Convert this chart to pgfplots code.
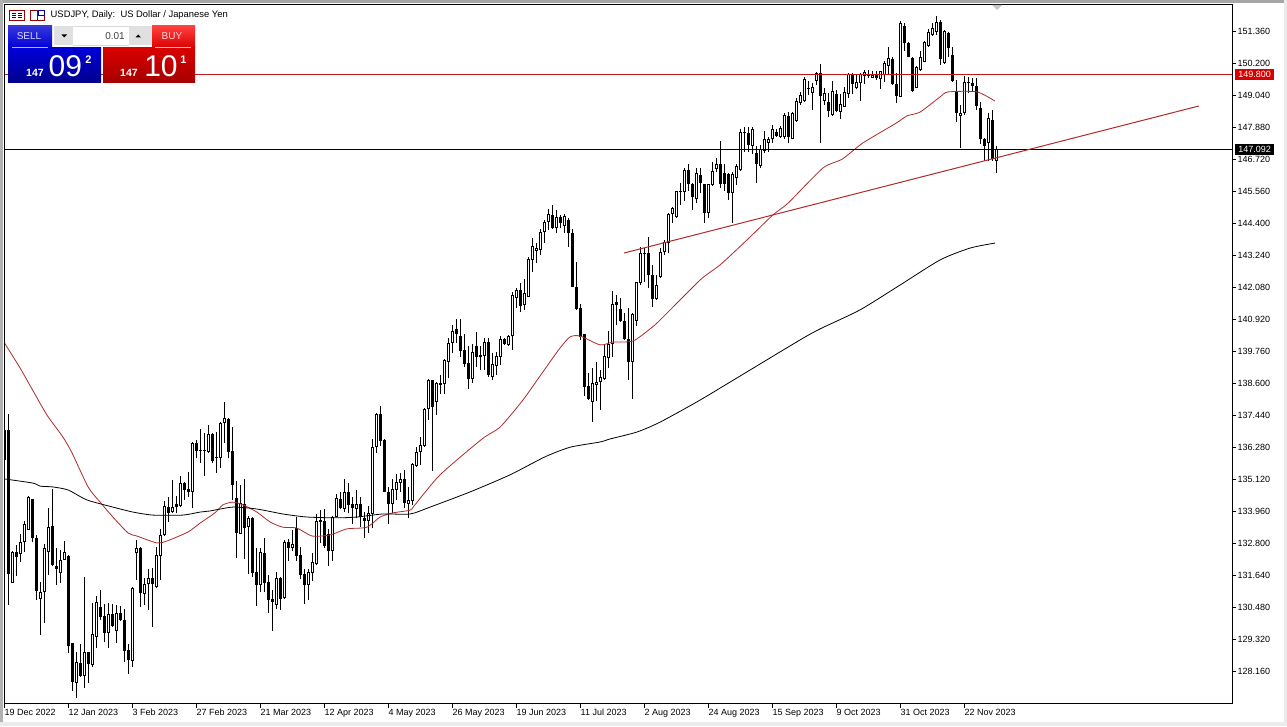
\documentclass[border=0pt]{standalone}
\usepackage{fontspec}
\setmainfont{Liberation Sans}
\usepackage{pgfplots}
\usepackage{pgfplotstable}
\pgfplotsset{compat=1.18}
\definecolor{mared}{HTML}{B02A2A}
\definecolor{linered}{HTML}{C01818}

% x open high low close, x = bar number
\pgfplotstableread{
x open high low close
2 131.36 132.53 131.36 132.48
4 132.41 133.14 132.13 132.84
5 132.84 133.62 132.48 133.49
6 133.30 134.52 133.29 134.49
9 130.80 131.40 129.48 131.04
10 131.03 132.78 129.93 132.62
11 132.48 134.10 131.66 133.40
14 131.72 132.56 131.36 132.22
15 132.22 132.89 132.20 132.48
18 127.76 128.87 127.21 128.49
20 128.01 131.59 127.57 128.85
22 128.39 130.63 128.33 129.51
23 129.42 130.90 129.02 130.67
26 129.57 130.63 129.02 130.23
28 129.64 130.57 129.21 130.27
32 128.55 131.21 128.33 131.19
33 132.44 132.91 131.49 132.62
35 130.98 131.54 130.57 131.32
36 131.32 131.86 130.39 131.54
38 131.21 132.69 131.17 132.37
39 132.36 133.31 131.48 133.10
40 133.10 134.35 133.08 134.15
42 133.93 135.10 133.92 134.11
44 134.17 135.25 134.11 134.98
47 134.68 136.49 134.07 136.43
50 136.14 136.79 135.26 136.18
51 136.13 137.09 136.09 136.76
54 135.91 137.19 135.55 137.17
55 137.16 137.92 136.45 137.34
59 133.14 134.92 133.14 134.26
61 133.41 133.81 131.69 133.71
64 131.30 132.62 131.05 132.48
68 130.57 131.75 130.41 131.54
70 130.81 132.93 130.78 132.85
72 132.65 133.29 132.53 132.78
76 131.30 131.88 130.75 131.75
77 131.74 132.44 131.45 132.12
78 132.06 133.87 132.02 133.62
82 132.54 133.80 132.17 133.75
83 133.77 134.59 133.75 134.44
85 134.05 135.14 133.95 134.68
88 134.05 134.74 133.71 134.22
91 133.63 134.17 133.19 133.89
92 133.87 136.58 133.35 136.29
93 136.29 137.54 136.09 137.49
97 134.23 135.13 133.92 134.76
98 134.74 135.32 134.38 135.02
99 135.01 135.34 134.68 135.13
101 134.24 134.86 133.71 134.36
102 134.35 135.73 134.20 135.68
103 135.61 136.31 135.58 136.10
104 136.10 136.67 135.65 136.36
105 136.35 137.70 136.29 137.68
106 137.66 138.75 137.28 138.73
108 137.94 138.67 137.46 138.63
110 138.57 139.50 138.22 139.45
111 139.39 140.24 138.79 140.06
112 140.06 140.72 139.69 140.50
117 138.76 140.03 138.63 139.75
119 139.55 139.96 139.09 139.62
120 139.61 140.24 139.09 140.09
122 138.85 139.72 138.73 139.29
123 139.25 139.75 138.91 139.60
124 139.57 140.32 139.27 140.20
126 140.01 140.36 139.97 140.32
127 140.31 141.93 139.81 141.80
128 141.69 142.05 141.33 141.99
130 141.45 142.38 141.27 141.88
131 141.75 143.20 141.72 143.10
132 143.08 143.86 142.65 143.60
133 143.42 143.71 142.96 143.50
134 143.44 144.19 143.26 144.08
135 144.08 144.53 143.71 144.47
136 144.47 144.91 144.16 144.73
138 144.22 144.89 144.04 144.65
140 144.32 144.74 144.07 144.67
147 137.94 139.15 137.22 138.61
148 138.55 139.39 137.97 138.67
149 138.67 139.09 137.64 138.82
150 138.76 140.00 138.73 139.60
151 139.51 140.50 139.15 140.03
152 140.03 141.95 139.57 141.47
157 139.39 141.17 138.04 141.12
158 140.88 142.29 140.68 142.27
159 142.26 143.56 142.17 143.32
160 143.29 143.50 142.29 143.34
163 141.65 142.53 141.63 142.16
164 142.45 143.50 142.41 143.38
165 143.36 143.80 143.26 143.72
166 143.68 144.77 143.32 144.74
167 144.73 145.01 144.41 144.95
168 144.62 145.57 144.61 145.57
170 145.55 146.42 145.22 146.34
173 145.28 146.40 145.13 146.22
176 144.79 145.83 144.59 145.82
177 145.81 146.63 145.77 146.29
178 146.39 146.76 146.28 146.56
182 145.52 146.28 144.41 146.18
183 146.04 146.55 145.80 146.48
184 146.34 147.84 146.31 147.71
187 147.22 147.91 146.91 147.83
189 146.48 147.25 146.40 147.09
190 147.03 147.75 146.94 147.45
191 147.31 147.55 147.00 147.46
192 147.45 147.96 147.31 147.81
194 147.55 147.93 147.49 147.86
195 147.52 148.39 147.48 148.33
197 147.48 148.45 147.45 148.39
198 148.12 148.94 148.09 148.85
199 148.78 149.18 148.70 149.05
200 148.83 149.70 148.80 149.63
201 149.28 149.58 149.06 149.30
202 149.14 149.48 148.51 149.34
203 149.58 149.90 149.42 149.87
205 148.85 149.32 148.70 149.12
207 148.33 149.58 148.30 149.20
209 148.45 149.08 148.18 148.72
210 148.64 149.34 148.61 149.18
211 149.09 149.87 148.96 149.82
213 149.30 149.78 149.26 149.52
214 149.48 149.87 148.85 149.82
215 149.76 149.96 149.46 149.90
216 149.75 149.96 149.66 149.82
217 149.69 149.94 149.66 149.78
219 149.63 149.94 149.28 149.92
220 149.78 150.29 149.54 150.21
221 150.12 150.81 149.82 150.39
224 149.00 151.74 149.00 151.66
228 149.32 150.11 149.30 150.09
229 149.96 150.67 149.94 150.42
230 150.27 151.03 150.24 150.97
231 150.83 151.44 150.81 151.35
232 151.23 151.66 151.21 151.47
233 151.35 151.92 151.23 151.72
235 150.23 151.41 150.18 151.39
239 148.31 148.70 147.15 148.39
240 148.39 149.75 148.33 149.52
241 149.48 149.70 149.12 149.54
246 147.31 148.39 146.67 148.21
248 146.67 147.22 146.22 147.09
}\upbars

\pgfplotstableread{
x open high low close
0 136.91 136.91 135.83 135.83
1 136.91 137.49 130.57 131.68
3 132.48 132.75 131.62 132.32
7 134.40 134.40 132.87 133.01
8 132.99 133.11 130.75 131.09
12 133.43 134.78 131.98 132.03
13 131.97 132.65 131.31 131.88
16 132.35 132.38 128.84 129.10
17 129.18 129.18 127.45 127.79
19 128.46 129.16 127.97 128.01
21 128.88 128.88 127.76 128.42
24 130.49 131.10 130.03 130.15
25 130.16 130.61 129.22 129.57
27 130.24 130.61 129.78 129.81
29 130.28 130.53 130.00 130.03
30 130.03 130.43 128.52 128.92
31 128.94 129.16 128.08 128.58
34 132.64 132.69 130.49 130.99
37 131.54 131.90 129.78 131.33
41 134.11 134.47 133.59 133.92
43 134.22 134.52 133.92 134.13
45 134.98 135.04 134.38 134.74
46 134.78 135.38 134.50 134.68
48 136.43 136.55 135.89 136.17
49 136.18 136.95 135.73 136.14
52 136.76 136.79 135.73 135.79
53 135.93 136.85 135.37 135.91
56 137.31 137.36 135.89 136.13
57 136.15 137.03 134.38 134.92
58 134.44 135.06 132.29 133.19
60 134.23 135.14 132.24 133.37
62 133.72 133.77 131.57 131.74
63 131.77 132.65 130.55 131.30
65 132.44 132.99 131.03 131.36
66 131.40 131.66 130.29 130.75
67 130.78 131.11 129.64 130.68
69 131.55 131.57 130.39 130.78
71 132.84 132.96 132.17 132.65
73 133.35 133.77 132.17 132.35
74 132.37 132.69 131.50 131.66
75 131.71 131.88 130.61 131.30
79 133.65 134.02 132.81 133.59
80 133.62 134.05 132.65 132.72
81 133.14 133.33 132.00 132.54
84 134.40 134.68 134.04 134.10
86 134.68 134.98 133.89 134.20
87 134.22 134.47 133.51 134.10
89 134.22 134.47 133.39 133.75
90 133.74 133.93 133.01 133.63
94 137.49 137.78 136.33 136.53
95 136.55 136.58 134.68 134.68
96 134.67 134.86 133.49 134.23
100 135.13 135.46 134.07 134.26
107 138.71 138.73 135.44 137.76
109 138.61 138.91 138.22 138.56
113 140.58 140.94 140.06 140.39
114 140.32 140.94 139.57 139.79
115 139.81 140.38 139.21 139.31
116 139.33 139.97 138.40 138.76
118 139.96 140.45 139.21 139.57
121 140.09 140.24 138.85 138.91
125 140.20 140.24 140.00 140.03
129 141.99 142.23 141.20 141.42
137 144.71 145.07 144.19 144.22
139 144.62 144.71 144.22 144.43
141 144.53 144.59 143.56 144.04
142 144.04 144.20 142.09 142.09
143 142.11 142.99 141.27 141.30
144 141.33 141.47 140.18 140.30
145 140.38 140.39 138.16 138.49
146 138.51 138.97 138.00 138.04
153 141.55 141.81 140.72 141.45
154 141.30 141.71 140.84 140.87
155 140.87 141.17 140.18 140.20
156 140.20 141.33 138.73 139.39
161 143.32 143.90 142.05 142.53
162 142.53 142.90 141.39 141.65
169 145.58 145.86 145.07 145.53
171 146.34 146.56 145.59 145.82
172 145.83 145.88 144.89 145.37
174 146.16 146.42 145.49 145.88
175 145.82 145.83 144.41 144.79
179 146.55 147.39 145.68 145.83
180 146.22 146.56 145.58 145.83
181 146.19 146.22 145.25 145.52
185 147.71 147.89 147.00 147.67
186 147.67 147.91 147.00 147.25
188 146.97 147.21 145.88 146.56
193 147.72 147.81 147.55 147.57
196 148.31 148.45 147.31 147.52
204 149.84 150.18 147.33 149.03
206 148.79 149.12 148.27 148.49
208 149.09 149.24 148.45 148.48
212 149.82 149.87 149.08 149.46
218 149.78 149.94 149.60 149.66
222 150.36 150.45 149.42 149.46
223 149.46 149.87 148.78 149.02
225 151.56 151.66 150.65 150.93
226 150.93 150.97 150.42 150.45
227 150.39 150.45 149.15 149.20
234 151.69 151.78 150.15 150.35
236 151.29 151.33 150.42 150.75
237 150.51 150.81 149.54 149.57
238 149.15 149.60 148.09 148.39
242 149.48 149.69 149.22 149.40
243 149.38 149.69 148.51 148.67
244 148.58 148.82 147.28 147.45
245 147.45 147.49 146.68 147.22
247 148.15 148.52 146.68 146.73
}\downbars

\pgfplotstableread{
x y
0 140.07
3.9 139.16
7 138.37
10.6 137.46
14.6 136.66
16.9 136.08
20.9 134.85
23.9 134.30
27.1 133.76
30.9 133.18
33.1 133.07
38.1 132.82
40.6 132.89
45.9 133.22
48.9 133.54
52.6 133.91
54.6 134.20
57.1 134.30
59.6 134.20
63.1 133.94
66.4 133.58
69.6 133.39
73.1 133.36
76.9 133.07
81.4 133.11
85.6 133.33
90.6 133.39
93.9 133.76
97.1 133.91
101.4 134.01
102.6 134.20
108.9 135.29
119.4 136.59
123.9 137.02
129.6 138.00
134.6 139.02
138.9 139.89
141.4 140.29
143.9 140.32
148.9 140.00
152.1 140.10
157.1 140.14
161.4 140.58
163.9 140.90
173.9 142.35
178.9 142.90
185.6 143.80
192.1 144.71
195.9 145.14
204.6 146.41
209.4 146.73
214.6 147.32
222.6 148.01
225.6 148.30
228.9 148.44
233.9 148.99
235.9 149.17
243.1 149.17
247.6 148.84
}\redma

\pgfplotstableread{
x y
0 135.14
7.1 134.99
8.9 134.88
12.1 134.85
15.9 134.74
20.6 134.38
27.1 134.12
32.1 133.94
37.1 133.83
44.6 133.83
48.9 133.94
51.4 133.98
57.1 134.12
63.1 134.05
69.6 133.87
75.6 133.76
83.1 133.73
88.1 133.76
94.6 133.87
101.4 133.87
106.4 134.12
116.4 134.67
126.4 135.29
135.1 135.94
141.4 136.29
148.9 136.48
151.4 136.59
158.1 136.84
163.9 137.20
173.9 138.00
186.4 139.09
198.9 140.18
203.9 140.58
213.9 141.27
223.9 142.17
233.9 143.08
241.4 143.51
247.6 143.69
}\blackma

\pgfplotsset{
  candle/.style 2 args={draw=none,mark=none,forget plot,
    error bars/.cd,y dir=plus,y explicit,error mark=none,
    error bar style={draw=#1,line width=#2}},
}
\newcommand\tagfont{\fontsize{9}{9}\selectfont}

\begin{document}
\begin{tikzpicture}[x=1pt,y=1pt]
\useasboundingbox (0,0) rectangle (1287,726);
\fill[white] (0,0) rectangle (1287,726);

\begin{axis}[
  at={(4.5pt,22.5pt)}, anchor=south west,
  scale only axis, width=1228pt, height=699pt,
  xmin=0, xmax=307, ymin=127.0, ymax=152.339,
  axis line style={line width=1pt,black},
  tick style={black,line width=1pt},
  tick align=outside, major tick length=4pt,
  axis x line*=bottom, axis y line*=right,
  separate axis lines,
  xtick={0,16,...,240},
  xticklabels={19 Dec 2022,12 Jan 2023,3 Feb 2023,27 Feb 2023,21 Mar 2023,12 Apr 2023,4 May 2023,26 May 2023,19 Jun 2023,11 Jul 2023,2 Aug 2023,24 Aug 2023,15 Sep 2023,9 Oct 2023,31 Oct 2023,22 Nov 2023},
  xticklabel style={anchor=north west,font=\tagfont,inner sep=0pt,text height=7pt,text depth=2pt,yshift=-1pt},
  ytick={128.16,129.32,130.48,131.64,132.8,133.96,135.12,136.28,137.44,138.6,139.76,140.92,142.08,143.24,144.4,145.56,146.72,147.88,149.04,150.2,151.36},
  yticklabel style={font=\tagfont,inner sep=0pt,anchor=west,xshift=1pt,
    /pgf/number format/fixed,/pgf/number format/fixed zerofill,
    /pgf/number format/precision=3,/pgf/number format/1000 sep={},
    /pgf/number format/assume math mode=true},
  scaled y ticks=false,
  clip=true,
]
% wicks
\addplot[candle={black}{1pt}] table[x=x,y=low,y error expr=\thisrow{high}-\thisrow{low}] {\upbars};
\addplot[candle={black}{1pt}] table[x=x,y=low,y error expr=\thisrow{high}-\thisrow{low}] {\downbars};
% bodies
\addplot[candle={black}{3pt}] table[x=x,y=open,y error expr={max(\thisrow{close}-\thisrow{open},0.036)}] {\upbars};
\addplot[candle={black}{3pt}] table[x=x,y=close,y error expr={max(\thisrow{open}-\thisrow{close},0.036)}] {\downbars};
\addplot[candle={white}{1pt}] table[x=x,y expr=\thisrow{open}+0.036,y error expr={max(\thisrow{close}-\thisrow{open}-0.0725,0)}] {\upbars};
% moving averages
\addplot[mared,line width=0.8pt,forget plot,smooth,tension=0.4] table[x=x,y=y] {\redma};
\addplot[black,line width=0.8pt,forget plot,smooth,tension=0.4] table[x=x,y=y] {\blackma};
% levels and trend line
\addplot[linered,line width=1pt,forget plot] coordinates {(0,149.8)(307,149.8)};
\addplot[black,line width=1pt,forget plot] coordinates {(0,147.092)(307,147.092)};
\addplot[mared,line width=1pt,forget plot] coordinates {(154.9,143.33)(298.6,148.66)};
\end{axis}

\begin{scope}[x=1pt,y=-1pt,yshift=726pt]
  % window edges
  \fill[gray!70] (0,0) rectangle (1287,3);
  \fill[gray!60] (0,0) rectangle (2.5,726);
  \fill[black!8] (1284,0) rectangle (1287,726);
  \fill[black!8] (0,722) rectangle (1287,726);
  % top frame of the chart
  \draw[black,line width=1pt] (4,4.5) -- (1233,4.5) (4.5,4) -- (4.5,704);
  % shift marker
  \fill[black!22] (992,5) -- (1002,5) -- (997,10) -- cycle;
  % price tags
  \fill[red!85!black] (1235,69.5) rectangle (1274,80);
  \node[white,font=\tagfont,inner sep=0pt] at (1254.5,74.8) {149.800};
  \fill[black] (1235,144) rectangle (1274,155);
  \node[white,font=\tagfont,inner sep=0pt] at (1254.5,149.5) {147.092};
  % title icons
  \draw[red!60!black,line width=0.8pt] (9.5,10.5) rectangle (24,20.5);
  \draw[blue!60!black,line width=0.7pt] (12,13.5) -- (15.5,13.5) (12,15.5) -- (15.5,15.5) (12,17.5) -- (15.5,17.5) (18,13.5) -- (22,13.5) (18,15.5) -- (22,15.5) (18,17.5) -- (22,17.5);
  \draw[red!60!black,line width=0.8pt] (30.5,10.5) rectangle (37,20.5);
  \draw[blue!60!black,line width=0.8pt] (38,10.5) rectangle (44.5,15.5);
  \draw[red!60!black,line width=0.6pt] (37,20.5) -- (44.5,20.5) -- (44.5,15.5);
  \node[anchor=west,inner sep=0pt,font=\fontsize{9.4}{9.4}\selectfont] at (50.5,15.5) {USDJPY, Daily:\ \ US Dollar / Japanese Yen};
  % sell panel
  \shade[top color=blue!75!white!85!black,bottom color=blue!85!black] (8,26) rectangle (52,48);
  \shade[top color=blue!85!black,bottom color=blue!55!black] (8,48) rectangle (101,82.5);
  \draw[white!70!blue,line width=0.6pt] (12,47.7) -- (48,47.7);
  \node[white!85!blue,font=\fontsize{10}{10}\selectfont,inner sep=0pt] at (29,36.5) {SELL};
  \node[white,font=\fontsize{10.5}{10.5}\bfseries\selectfont,inner sep=0pt] at (35,72.5) {147};
  \node[white,font=\fontsize{30}{30}\selectfont,inner sep=0pt] at (65.3,66.5) {09};
  \node[white,font=\fontsize{11}{11}\bfseries\selectfont,inner sep=0pt] at (88.5,60) {2};
  % spinner
  \fill[black!12] (54,26) rectangle (73,45.5);
  \fill[black!12] (129,26) rectangle (152,45.5);
  \draw[black!15,line width=0.5pt] (73,26) -- (129,26) (73,45.5) -- (129,45.5);
  \fill[black] (61.5,34.5) -- (67,34.5) -- (64.2,37.5) -- cycle;
  \fill[black] (135.5,37.5) -- (141,37.5) -- (138.2,34.5) -- cycle;
  \node[anchor=east,black!75,font=\fontsize{10}{10}\selectfont,inner sep=0pt] at (125,36) {0.01};
  % buy panel
  \shade[top color=red!75!white,bottom color=red!85!black] (152,26) rectangle (195,48);
  \shade[top color=red!85!black,bottom color=red!65!black] (103,48) rectangle (195,82.5);
  \draw[white!70!red,line width=0.6pt] (155,47.7) -- (191,47.7);
  \node[white!85!red,font=\fontsize{10}{10}\selectfont,inner sep=0pt] at (172,36.5) {BUY};
  \node[white,font=\fontsize{10.5}{10.5}\bfseries\selectfont,inner sep=0pt] at (129,72.5) {147};
  \node[white,font=\fontsize{30}{30}\selectfont,inner sep=0pt] at (161,66.5) {10};
  \node[white,font=\fontsize{11}{11}\bfseries\selectfont,inner sep=0pt] at (183.5,60) {1};
\end{scope}
\end{tikzpicture}
\end{document}
